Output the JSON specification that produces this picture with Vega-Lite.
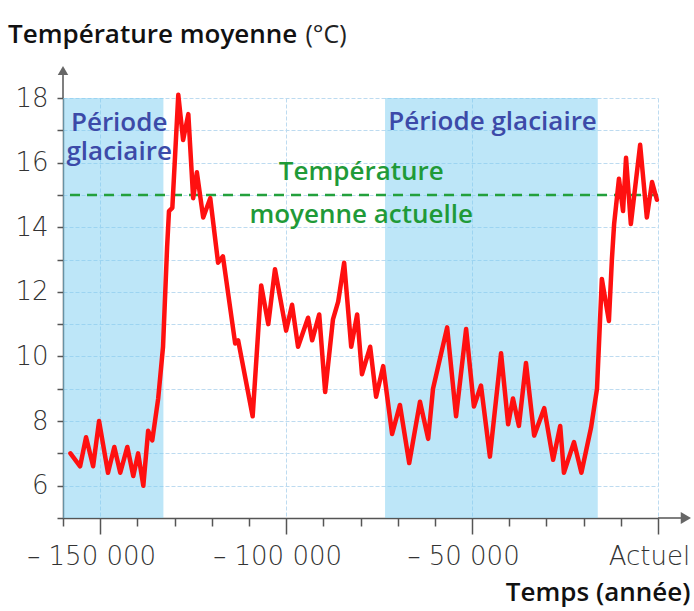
{
  "$schema": "https://vega.github.io/schema/vega-lite/v6.json",
  "width": 595,
  "height": 420,
  "autosize": "none",
  "padding": {"left": 63, "top": 98, "right": 36, "bottom": 93},
  "background": "white",
  "title": {"text": "Température moyenne", "anchor": "start", "frame": "group", "dx": -55, "dy": 26, "offset": 0, "font": "Open Sans", "fontSize": 26, "fontWeight": 600, "color": "#111111"},
  "config": {"view": {"stroke": null}, "font": "Open Sans"},
  "datasets": {
    "temp": [
      {"annee": -158000, "temperature": 7.0},
      {"annee": -155400, "temperature": 6.6},
      {"annee": -153800, "temperature": 7.5},
      {"annee": -151900, "temperature": 6.6},
      {"annee": -150300, "temperature": 8.0},
      {"annee": -147900, "temperature": 6.4},
      {"annee": -146200, "temperature": 7.2},
      {"annee": -144600, "temperature": 6.4},
      {"annee": -142700, "temperature": 7.2},
      {"annee": -141100, "temperature": 6.3},
      {"annee": -139800, "temperature": 7.0},
      {"annee": -138400, "temperature": 6.0},
      {"annee": -137100, "temperature": 7.7},
      {"annee": -136000, "temperature": 7.4},
      {"annee": -134400, "temperature": 8.7},
      {"annee": -133100, "temperature": 10.3},
      {"annee": -132000, "temperature": 13.4},
      {"annee": -131500, "temperature": 14.5},
      {"annee": -130600, "temperature": 14.6},
      {"annee": -129000, "temperature": 18.1},
      {"annee": -127700, "temperature": 16.7},
      {"annee": -126300, "temperature": 17.5},
      {"annee": -125000, "temperature": 14.9},
      {"annee": -124000, "temperature": 15.7},
      {"annee": -122300, "temperature": 14.3},
      {"annee": -120400, "temperature": 14.9},
      {"annee": -118300, "temperature": 12.9},
      {"annee": -117000, "temperature": 13.1},
      {"annee": -113700, "temperature": 10.4},
      {"annee": -112900, "temperature": 10.5},
      {"annee": -109000, "temperature": 8.15},
      {"annee": -106700, "temperature": 12.2},
      {"annee": -104800, "temperature": 11.0},
      {"annee": -103000, "temperature": 12.7},
      {"annee": -100000, "temperature": 10.8},
      {"annee": -98400, "temperature": 11.6},
      {"annee": -96800, "temperature": 10.3},
      {"annee": -94100, "temperature": 11.2},
      {"annee": -93000, "temperature": 10.5},
      {"annee": -91100, "temperature": 11.3},
      {"annee": -89500, "temperature": 8.9},
      {"annee": -87400, "temperature": 11.15},
      {"annee": -86000, "temperature": 11.7},
      {"annee": -84400, "temperature": 12.9},
      {"annee": -82500, "temperature": 10.3},
      {"annee": -80900, "temperature": 11.3},
      {"annee": -79600, "temperature": 9.45},
      {"annee": -77400, "temperature": 10.3},
      {"annee": -75800, "temperature": 8.75},
      {"annee": -73900, "temperature": 9.7},
      {"annee": -71500, "temperature": 7.6},
      {"annee": -69400, "temperature": 8.5},
      {"annee": -66900, "temperature": 6.7},
      {"annee": -64000, "temperature": 8.6},
      {"annee": -61800, "temperature": 7.45},
      {"annee": -60500, "temperature": 9.0},
      {"annee": -56700, "temperature": 10.9},
      {"annee": -54300, "temperature": 8.15},
      {"annee": -51600, "temperature": 10.85},
      {"annee": -49500, "temperature": 8.45},
      {"annee": -47600, "temperature": 9.1},
      {"annee": -45200, "temperature": 6.9},
      {"annee": -42200, "temperature": 10.1},
      {"annee": -40300, "temperature": 7.9},
      {"annee": -39000, "temperature": 8.7},
      {"annee": -37400, "temperature": 7.85},
      {"annee": -35500, "temperature": 9.8},
      {"annee": -33300, "temperature": 7.55},
      {"annee": -30600, "temperature": 8.4},
      {"annee": -28200, "temperature": 6.8},
      {"annee": -26300, "temperature": 7.85},
      {"annee": -25300, "temperature": 6.4},
      {"annee": -22600, "temperature": 7.35},
      {"annee": -20600, "temperature": 6.4},
      {"annee": -18000, "temperature": 7.8},
      {"annee": -16400, "temperature": 9.0},
      {"annee": -15100, "temperature": 12.4},
      {"annee": -13200, "temperature": 11.1},
      {"annee": -12400, "temperature": 13.0},
      {"annee": -11800, "temperature": 14.1},
      {"annee": -10500, "temperature": 15.5},
      {"annee": -9400, "temperature": 14.5},
      {"annee": -8600, "temperature": 16.15},
      {"annee": -7300, "temperature": 14.1},
      {"annee": -4800, "temperature": 16.55},
      {"annee": -3000, "temperature": 14.3},
      {"annee": -1600, "temperature": 15.4},
      {"annee": -300, "temperature": 14.85}
    ],
    "periodes": [
      {"debut": -160000, "fin": -133000},
      {"debut": -73400, "fin": -16200}
    ],
    "un": [{}]
  },
  "layer": [
    {
      "data": {"name": "periodes"},
      "mark": {"type": "rect", "color": "#7bcdf1", "opacity": 0.5},
      "encoding": {
        "x": {
          "field": "debut", "type": "quantitative",
          "scale": {"domain": [-160000, 0], "nice": false, "zero": false},
          "axis": {
            "values": [-160000, -150000, -140000, -130000, -120000, -110000, -100000, -90000, -80000, -70000, -60000, -50000, -40000, -30000, -20000, -10000, 0],
            "tickCount": 40,
            "labelExpr": "datum.value == 0 ? 'Actuel' : (datum.value % 50000 == 0 ? '– ' + replace(format(-datum.value, ','), ',', ' ') : '')",
            "labelFlush": false,
            "labelOverlap": false,
            "labelFont": "DejaVu Sans",
            "labelFontSize": 26,
            "labelFontWeight": 300,
            "labelColor": "#333333",
            "labelPadding": 9,
            "labelOffset": -9,
            "tickSize": {"condition": {"test": "datum.value % 50000 == 0", "value": 16}, "value": 8},
            "tickColor": "#555555",
            "tickWidth": 1.5,
            "domainColor": "#555555",
            "domainWidth": 1.5,
            "grid": true,
            "gridColor": "#bddbf0",
            "gridDash": [4, 2],
            "gridOpacity": {"condition": {"test": "datum.value % 50000 == 0", "value": 1}, "value": 0},
            "title": "Temps (année)",
            "titleX": 627,
            "titleY": 82,
            "titleAlign": "right",
            "titleBaseline": "alphabetic",
            "titleFont": "Open Sans",
            "titleFontSize": 26,
            "titleFontWeight": 600,
            "titleColor": "#111111"
          }
        },
        "x2": {"field": "fin"}
      }
    },
    {
      "data": {"name": "un"},
      "mark": {"type": "rule", "color": "#23a03c", "strokeWidth": 2.5, "strokeDash": [10, 7]},
      "encoding": {"y": {"datum": 15, "type": "quantitative", "scale": {"domain": [5, 18], "nice": false, "zero": false}}}
    },
    {
      "data": {"name": "temp"},
      "mark": {"type": "line", "color": "#ff1010", "strokeWidth": 4.5, "strokeJoin": "round", "strokeCap": "round"},
      "encoding": {
        "x": {"field": "annee", "type": "quantitative", "scale": {"domain": [-160000, 0], "nice": false, "zero": false}},
        "y": {
          "field": "temperature", "type": "quantitative",
          "scale": {"domain": [5, 18], "nice": false, "zero": false},
          "axis": {
            "values": [5, 6, 7, 8, 9, 10, 11, 12, 13, 14, 15, 16, 17, 18],
            "tickCount": 40,
            "format": "d",
            "labelExpr": "datum.value % 2 == 0 ? datum.label : ''",
            "labelOverlap": false,
            "labelFont": "DejaVu Sans",
            "labelFontSize": 26,
            "labelFontWeight": 300,
            "labelColor": "#333333",
            "labelPadding": 9,
            "tickSize": 6,
            "tickColor": "#555555",
            "tickWidth": 1.5,
            "domainColor": "#555555",
            "domainWidth": 1.5,
            "grid": true,
            "gridColor": "#bddbf0",
            "gridDash": [4, 2],
            "title": "(°C)",
            "titleAngle": 0,
            "titleX": 242,
            "titleY": -56,
            "titleAlign": "left",
            "titleBaseline": "alphabetic",
            "titleFont": "Open Sans",
            "titleFontSize": 25,
            "titleFontWeight": 400,
            "titleColor": "#222222"
          }
        }
      }
    },
    {
      "data": {"name": "un"},
      "mark": {"type": "text", "lineBreak": "\n", "lineHeight": 29, "font": "Open Sans", "fontSize": 26, "fontWeight": 600, "color": "#3c4aa8", "align": "center", "baseline": "middle"},
      "encoding": {
        "x": {"datum": -144900, "type": "quantitative"},
        "y": {"datum": 17.23, "type": "quantitative"},
        "text": {"value": "Période\nglaciaire"}
      }
    },
    {
      "data": {"name": "un"},
      "mark": {"type": "text", "font": "Open Sans", "fontSize": 26, "fontWeight": 600, "color": "#3c4aa8", "align": "center", "baseline": "middle"},
      "encoding": {
        "x": {"datum": -44500, "type": "quantitative"},
        "y": {"datum": 17.26, "type": "quantitative"},
        "text": {"value": "Période glaciaire"}
      }
    },
    {
      "data": {"name": "un"},
      "mark": {"type": "text", "lineBreak": "\n", "lineHeight": 43, "font": "Open Sans", "fontSize": 26, "fontWeight": 600, "color": "#1f9a38", "align": "center", "baseline": "middle"},
      "encoding": {
        "x": {"datum": -79800, "type": "quantitative"},
        "y": {"datum": 15.72, "type": "quantitative"},
        "text": {"value": "Température\nmoyenne actuelle"}
      }
    },
    {
      "data": {"name": "un"},
      "mark": {"type": "rule", "color": "#555555", "strokeWidth": 1.5},
      "encoding": {
        "x": {"datum": 0, "type": "quantitative"},
        "x2": {"datum": 7500},
        "y": {"datum": 5, "type": "quantitative"}
      }
    },
    {
      "data": {"name": "un"},
      "mark": {"type": "point", "shape": "triangle-right", "filled": true, "color": "#666666", "size": 140, "opacity": 1},
      "encoding": {
        "x": {"datum": 7500, "type": "quantitative"},
        "y": {"datum": 5, "type": "quantitative"}
      }
    },
    {
      "data": {"name": "un"},
      "mark": {"type": "rule", "color": "#555555", "strokeWidth": 1.5},
      "encoding": {
        "x": {"datum": -160000, "type": "quantitative"},
        "y": {"datum": 18, "type": "quantitative"},
        "y2": {"datum": 18.8}
      }
    },
    {
      "data": {"name": "un"},
      "mark": {"type": "point", "shape": "triangle-up", "filled": true, "color": "#666666", "size": 110, "opacity": 1},
      "encoding": {
        "x": {"datum": -160000, "type": "quantitative"},
        "y": {"datum": 18.85, "type": "quantitative"}
      }
    }
  ]
}
